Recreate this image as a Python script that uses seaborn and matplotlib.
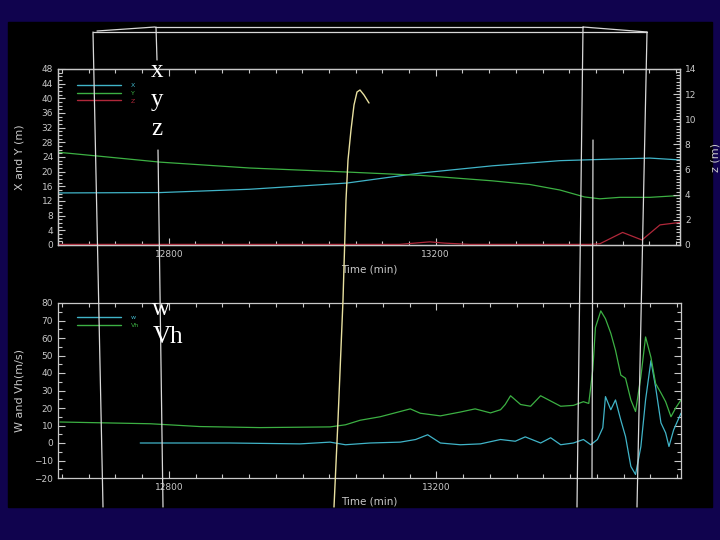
import matplotlib
matplotlib.use("Agg")
import matplotlib.pyplot as plt
from matplotlib.lines import Line2D
from matplotlib.patches import Rectangle
from matplotlib.ticker import MultipleLocator, FixedLocator
import seaborn as sns

# ---- data (time in minutes) ----
t_x = [12634, 12787, 12921, 13067, 13176, 13285, 13386, 13476, 13521, 13566]
pos_x = [14.2, 14.3, 15.2, 16.9, 19.6, 21.6, 23.0, 23.5, 23.7, 23.2]

t_y = [12634, 12697, 12787, 12921, 13067, 13176, 13285, 13341, 13386, 13423, 13446, 13476, 13521, 13566]
pos_y = [25.3, 24.2, 22.6, 21.0, 19.9, 19.0, 17.5, 16.5, 15.0, 13.1, 12.6, 13.0, 13.0, 13.5]

t_z = [12634, 13146, 13191, 13213, 13251, 13431, 13446, 13480, 13509, 13536, 13566]
pos_z = [0.05, 0.05, 0.25, 0.15, 0.05, 0.05, 0.1, 1.0, 0.4, 1.6, 1.8]

t_vh = [12637, 12772, 12846, 12936, 13041, 13064, 13086, 13116, 13146, 13161, 13176, 13206,
        13236, 13258, 13281, 13296, 13303, 13311, 13326, 13341, 13356, 13386, 13405, 13420,
        13428, 13434, 13438, 13446, 13453, 13461, 13468, 13476, 13483, 13491, 13498, 13506,
        13513, 13521, 13528, 13536, 13543, 13551, 13558, 13566]
vh = [12.0, 11.0, 9.4, 8.8, 9.2, 10.4, 13.0, 15.0, 18.0, 19.5, 17.0, 15.5,
      17.7, 19.5, 17.2, 19.0, 22.0, 27.0, 22.0, 21.0, 27.0, 21.0, 21.5, 23.6,
      22.6, 41.7, 66.0, 75.5, 71.0, 62.7, 53.0, 38.8, 37.0, 24.6, 18.0, 38.0,
      60.6, 49.0, 34.0, 28.6, 23.6, 15.0, 20.0, 24.6]

t_w = [12757, 12891, 12996, 13041, 13064, 13101, 13146, 13169, 13187, 13206, 13236, 13266,
       13296, 13318, 13333, 13356, 13371, 13386, 13405, 13420, 13431, 13441, 13449, 13453,
       13461, 13468, 13476, 13483, 13491, 13498, 13506, 13513, 13521, 13528, 13536, 13543,
       13548, 13555, 13566]
w = [0.0, 0.0, -0.5, 0.5, -1.0, 0.0, 0.5, 2.0, 4.7, 0.0, -1.0, -0.5,
     2.0, 1.0, 3.5, 0.0, 3.0, -1.0, 0.0, 2.0, -1.0, 2.0, 8.7, 26.5,
     19.0, 24.6, 13.0, 3.7, -13.4, -18.0, -2.0, 24.6, 47.0, 32.0, 11.5, 5.8,
     -2.0, 7.5, 17.0]

top_labels = ["X", "Y", "Z"]
bot_labels = ["w", "Vh"]

W, H = 720, 540
NAVY = "#10034e"
GRAY = "#c8c8c8"
CYAN = "#40b4c8"
GREEN = "#3cb043"
RED = "#b0283a"


def fig_xy(x, y):
    return x / W, 1 - y / H


def style_axis(ax, height_px):
    ax.set_facecolor("black")
    for sp in ax.spines.values():
        sp.set_color(GRAY)
        sp.set_linewidth(0.9)
    ax.tick_params(axis="both", which="both", direction="in", colors=GRAY,
                   labelsize=6.5, width=0.8)
    ax.tick_params(which="major", length=5)
    ax.tick_params(which="minor", length=3)
    ax.set_xlim(12634, 13566)
    ax.xaxis.set_major_locator(FixedLocator([12800, 13200]))
    ax.xaxis.set_minor_locator(MultipleLocator(40))
    ax.set_xlabel("Time (min)", color=GRAY, fontsize=7.5)
    ax.xaxis.set_label_coords(0.5, -24 / height_px, transform=ax.transAxes)
    ax.xaxis.label.set_va("center")


sns.set_theme(style="ticks")
plt.rcParams["font.family"] = ["DejaVu Sans"]

fig = plt.figure(figsize=(7.2, 5.4), dpi=100, facecolor=NAVY)
fig.patches.append(Rectangle(fig_xy(8, 507), 704 / W, 485 / H, color="black",
                             transform=fig.transFigure, zorder=-5))

# ---- top panel: X, Y (left) and Z (right) ----
ax1 = fig.add_axes([58 / W, 1 - 245 / H, 622 / W, 176 / H])
style_axis(ax1, 176)
sns.lineplot(x=t_x, y=pos_x, ax=ax1, color=CYAN, lw=0.9, legend=False)
sns.lineplot(x=t_y, y=pos_y, ax=ax1, color=GREEN, lw=0.9, legend=False)
ax1.set_ylim(0, 48)
ax1.yaxis.set_major_locator(MultipleLocator(4))
ax1.yaxis.set_minor_locator(MultipleLocator(1))
ax1.tick_params(top=True, right=False, which="both")
ax1.set_ylabel("X and Y (m)", color=GRAY, fontsize=8)
ax1.yaxis.set_label_coords(-33 / 622, 0.5)

ax1z = ax1.twinx()
sns.lineplot(x=t_z, y=pos_z, ax=ax1z, color=RED, lw=0.9, legend=False)
ax1z.set_ylim(0, 14)
ax1z.set_xlim(12634, 13566)
ax1z.yaxis.set_major_locator(MultipleLocator(2))
ax1z.yaxis.set_minor_locator(MultipleLocator(0.25))
ax1z.tick_params(axis="y", which="both", direction="in", colors=GRAY, labelsize=6.5, width=0.8)
ax1z.tick_params(which="major", length=5)
ax1z.tick_params(which="minor", length=3)
ax1z.set_ylabel("z (m)", color=GRAY, fontsize=8)
ax1z.yaxis.set_label_coords(1 + 30 / 622, 0.5)
for sp in ax1z.spines.values():
    sp.set_color(GRAY)
    sp.set_linewidth(0.9)

top_handles = [Line2D([], [], color=c, lw=1.0) for c in (CYAN, GREEN, RED)]
ax1z.legend(top_handles, top_labels, loc="upper left", bbox_to_anchor=fig_xy(77, 83),
            bbox_transform=fig.transFigure, frameon=False, fontsize=4.5,
            handlelength=7, handletextpad=1.6, labelspacing=0.36,
            borderpad=0, borderaxespad=0, labelcolor="linecolor")

# ---- bottom panel: w and Vh ----
ax2 = fig.add_axes([58 / W, 1 - 478 / H, 623 / W, 175 / H])
style_axis(ax2, 175)
sns.lineplot(x=t_w, y=w, ax=ax2, color=CYAN, lw=0.9, legend=False)
sns.lineplot(x=t_vh, y=vh, ax=ax2, color=GREEN, lw=0.9, legend=False)
ax2.set_ylim(-20, 80)
ax2.yaxis.set_major_locator(MultipleLocator(10))
ax2.yaxis.set_minor_locator(MultipleLocator(5))
ax2.tick_params(top=True, right=True, which="both")
ax2.set_ylabel("W and Vh(m/s)", color=GRAY, fontsize=8)
ax2.yaxis.set_label_coords(-33 / 623, 0.5)

bot_handles = [Line2D([], [], color=c, lw=1.0) for c in (CYAN, GREEN)]
ax2.legend(bot_handles, bot_labels, loc="upper left", bbox_to_anchor=fig_xy(77, 315),
           bbox_transform=fig.transFigure, frameon=False, fontsize=4.5,
           handlelength=7, handletextpad=1.6, labelspacing=0.36,
           borderpad=0, borderaxespad=0, labelcolor="linecolor")

# ---- slide overlay: frame lines, motion path and labels ----
overlay = [
    ((93, 32), (647, 32)),
    ((97, 31), (155, 27)),
    ((155, 27), (583, 27)),
    ((583, 27), (647, 32)),
    ((93, 32), (103, 507)),
    ((647, 32), (637, 507)),
    ((156, 27), (157, 60)),
    ((158, 150), (163, 507)),
    ((583, 27), (577, 507)),
    ((593, 140), (592, 478)),
]
for p0, p1 in overlay:
    (x0, y0), (x1, y1) = fig_xy(*p0), fig_xy(*p1)
    fig.add_artist(Line2D([x0, x1], [y0, y1], transform=fig.transFigure,
                          color="#d8d8d8", lw=0.9, zorder=10))

path_px = [(334, 507), (338, 420), (343, 300), (346, 200), (348, 160), (351, 130),
           (354, 105), (357, 92), (360, 90), (364, 95), (369, 103)]
px = [fig_xy(x, y) for x, y in path_px]
fig.add_artist(Line2D([p[0] for p in px], [p[1] for p in px], transform=fig.transFigure,
                      color="#e8e0a0", lw=1.0, zorder=10))

for txt, (x, y) in zip(["x", "y", "z", "w", "Vh"],
                       [(151, 77), (151, 106), (151, 135), (152, 315), (153, 343)]):
    fig.text(*fig_xy(x, y), txt, color="white", fontsize=18, ha="left", va="baseline",
             family=["Liberation Serif", "DejaVu Serif"], zorder=11)

fig.savefig("out.png", dpi=100, facecolor=fig.get_facecolor())
